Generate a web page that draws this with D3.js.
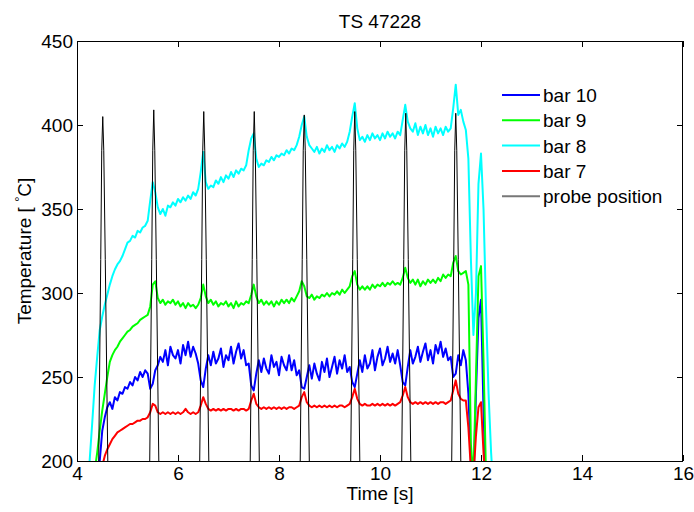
<!DOCTYPE html>
<html>
<head>
<meta charset="utf-8">
<script src="https://cdn.jsdelivr.net/npm/d3@7"></script>
<style>
  html, body { margin: 0; padding: 0; background: #fff; }
  svg { display: block; }
  text { font-family: "Liberation Sans", Arial, Helvetica, sans-serif; fill: #000; }
</style>
</head>
<body>
<svg id="chart" width="694" height="512"></svg>
<script>
// ---- data ----
const chartTitle = "TS 47228";
const xTicks = [4, 6, 8, 10, 12, 14, 16];
const yTicks = [200, 250, 300, 350, 400, 450];
const seriesNames = ["bar 10", "bar 9", "bar 8", "bar 7", "probe position"];
const seriesColors = ["#0000ff", "#00ff00", "#00ffff", "#ff0000", "#000000"];

// temperature traces sampled every 0.05 s starting at 4.20 s
const sampleStart = 4.2;
const sampleStep = 0.05;

const bar10 = [130,145,160,175,190,200,218,226,232,235,
231,238,236,241,240,244,243,247,245,250,
248,253,250,254,252,243,246,254,257,262,
259,266,257,268,263,261,266,258,269,263,
271,262,268,264,258,248,244,255,263,257,
265,258,261,267,256,263,260,268,258,265,
270,261,266,257,258,245,242,252,260,253,
261,255,252,263,256,259,251,262,257,254,
263,254,260,251,254,244,243,250,257,249,
258,252,248,259,253,261,250,256,262,252,
260,255,263,253,256,247,244,252,260,253,
263,255,258,266,254,262,267,257,261,268,
259,264,258,266,257,247,245,256,266,258,
262,268,259,265,270,260,266,258,269,264,
271,262,267,260,262,250,252,263,257,266,
260,240,200,185,240,285,296,230,180,170,
160,150,140];

const bar9 = [150,165,180,194,205,218,230,240,250,259,
263,266,268,271,273,275,277,278,280,281,
282,284,285,286,287,292,305,307,297,294,
296,293,295,294,296,293,295,292,294,291,
294,292,293,291,293,297,305,298,294,296,
293,295,292,294,293,295,292,294,291,295,
292,294,293,295,294,299,305,298,294,296,
293,295,293,295,292,295,293,296,294,296,
294,297,295,298,301,307,304,298,297,299,
296,298,297,299,298,300,298,300,299,301,
299,302,300,302,304,310,313,305,302,304,
302,304,302,305,303,305,304,306,304,306,
305,307,305,306,305,309,315,309,306,308,
305,308,304,307,305,308,306,308,306,309,
307,311,309,311,310,318,322,313,311,312,
313,305,210,190,250,310,316,260,190,170,
160,150,140];

const bar8 = [185,200,222,245,262,278,286,293,299,305,
310,314,317,319,322,326,330,331,334,333,
337,336,339,340,343,355,366,360,351,347,
350,346,352,351,354,352,356,354,357,355,
358,356,360,358,362,372,384,366,362,364,
363,367,365,369,366,370,368,372,369,373,
371,374,373,376,385,392,395,380,375,377,
376,379,378,381,379,382,381,383,382,385,
383,386,385,388,393,400,405,393,388,386,
384,387,383,386,384,388,385,387,384,388,
386,389,387,390,396,405,413,398,391,393,
390,394,391,395,392,394,391,395,392,396,
393,395,392,396,394,403,412,402,398,396,
401,394,399,395,400,394,398,393,399,395,
398,394,399,396,398,410,424,406,409,402,
397,380,320,275,300,365,383,350,290,240,
205,180,160];

const bar7 = [120,135,150,165,178,188,197,203,207,210,
213,215,217,218,219,220,221,222,222,223,
224,224,225,225,226,229,234,233,229,228,
229,228,229,228,229,228,229,228,229,231,
229,228,229,228,229,233,238,234,231,230,
231,230,231,230,231,230,231,231,230,231,
230,231,231,230,231,236,240,234,232,231,
232,231,232,231,232,231,232,231,232,231,
232,232,231,232,233,238,241,235,233,232,
233,232,233,232,233,232,233,232,233,232,
233,233,232,233,234,238,243,237,234,233,
234,233,233,234,233,234,233,234,233,234,
233,234,233,234,235,239,244,238,235,234,
235,234,235,234,235,234,235,234,235,234,
235,235,234,235,236,242,248,240,237,236,
236,220,195,190,215,232,235,205,180,170,
160,150,140];

// probe position trace (spikes), explicit time/value pairs
const probeTime = [
4.31,4.43,4.47,4.49,4.51,4.53,4.56,4.61,4.73,
5.32,5.44,5.48,5.50,5.52,5.54,5.57,5.62,5.74,
6.31,6.43,6.47,6.49,6.51,6.53,6.56,6.61,6.73,
7.31,7.43,7.47,7.49,7.51,7.53,7.56,7.61,7.73,
8.30,8.42,8.46,8.48,8.50,8.52,8.55,8.60,8.72,
9.30,9.42,9.46,9.48,9.50,9.52,9.55,9.60,9.72,
10.31,10.43,10.47,10.49,10.51,10.53,10.56,10.61,10.73,
11.30,11.42,11.46,11.48,11.50,11.52,11.55,11.60,11.72];
const probeValue = [
60,200,320,385,405,385,320,200,60,
60,200,320,385,409,385,320,200,60,
60,200,320,385,408,385,320,200,60,
60,200,320,385,408,385,320,200,60,
60,200,320,385,406,385,320,200,60,
60,200,320,385,408,385,320,200,60,
60,200,320,385,407,385,320,200,60,
60,200,320,385,407,385,320,200,60];

// ---- layout ----
const svg = d3.select("#chart");
const plot = { left: 77, right: 683, top: 41, bottom: 461 };
const x = d3.scaleLinear().domain([4, 16]).range([plot.left, plot.right]);
const y = d3.scaleLinear().domain([200, 450]).range([plot.bottom, plot.top]);
const FONT = 19;

svg.append("rect").attr("width", 694).attr("height", 512).attr("fill", "#fff");

svg.append("defs").append("clipPath").attr("id", "plotclip")
  .append("rect")
  .attr("x", plot.left).attr("y", plot.top)
  .attr("width", plot.right - plot.left).attr("height", plot.bottom - plot.top);

// series
const toPts = vals => vals.map((v, i) => [sampleStart + i * sampleStep, v]);
const seriesData = [toPts(bar10), toPts(bar9), toPts(bar8), toPts(bar7),
  probeTime.map((t, i) => [t, probeValue[i]])];
const line = d3.line().x(d => x(d[0])).y(d => y(d[1]));
const g = svg.append("g").attr("clip-path", "url(#plotclip)");
seriesData.forEach((pts, k) => {
  g.append("path")
    .attr("d", line(pts))
    .attr("fill", "none")
    .attr("stroke", seriesColors[k])
    .attr("stroke-width", k === 4 ? 1 : 2)
    .attr("stroke-linejoin", "round");
});

// axes (ticks inward on all four sides)
const axB = svg.append("g").attr("transform", `translate(0,${plot.bottom})`)
  .call(d3.axisBottom(x).tickValues(xTicks).tickSizeInner(-6).tickSizeOuter(0).tickPadding(6).tickFormat(d3.format("d")));
const axL = svg.append("g").attr("transform", `translate(${plot.left},0)`)
  .call(d3.axisLeft(y).tickValues(yTicks).tickSizeInner(-6).tickSizeOuter(0).tickPadding(4).tickFormat(d3.format("d")));
const axT = svg.append("g").attr("transform", `translate(0,${plot.top})`)
  .call(d3.axisTop(x).tickValues(xTicks).tickSizeInner(-6).tickSizeOuter(0).tickFormat(""));
const axR = svg.append("g").attr("transform", `translate(${plot.right},0)`)
  .call(d3.axisRight(y).tickValues(yTicks).tickSizeInner(-6).tickSizeOuter(0).tickFormat(""));
[axB, axL, axT, axR].forEach(a => {
  a.select(".domain").remove();
  a.selectAll("line").attr("stroke", "#000");
  a.selectAll("text").style("font-size", FONT + "px")
    .style("font-family", '"Liberation Sans", Arial, sans-serif').attr("fill", "#000");
});

svg.append("rect")
  .attr("x", plot.left + 0.5).attr("y", plot.top + 0.5)
  .attr("width", plot.right - plot.left - 1).attr("height", plot.bottom - plot.top)
  .attr("fill", "none").attr("stroke", "#000").attr("stroke-width", 1);

// title and axis labels
svg.append("text").attr("x", (plot.left + plot.right) / 2).attr("y", 28)
  .attr("text-anchor", "middle").style("font-size", FONT + "px").text(chartTitle);
svg.append("text").attr("x", (plot.left + plot.right) / 2).attr("y", 500)
  .attr("text-anchor", "middle").style("font-size", FONT + "px").text("Time [s]");
const yl = svg.append("text")
  .attr("transform", `translate(31,${(plot.top + plot.bottom) / 2}) rotate(-90)`)
  .attr("text-anchor", "middle").style("font-size", FONT + "px");
yl.append("tspan").text("Temperature [ ");
yl.append("tspan").attr("dy", -7).style("font-size", "13px").text("°");
yl.append("tspan").attr("dy", 7).text("C]");

// legend (no box)
const legend = svg.append("g");
seriesNames.forEach((name, k) => {
  const cy = 95 + k * 25.3;
  legend.append("line")
    .attr("x1", 502).attr("x2", 540).attr("y1", cy).attr("y2", cy)
    .attr("stroke", k === 4 ? "#777" : seriesColors[k]).attr("stroke-width", 2);
  legend.append("text").attr("x", 543).attr("y", cy + 7)
    .style("font-size", FONT + "px").text(name);
});
</script>
</body>
</html>
